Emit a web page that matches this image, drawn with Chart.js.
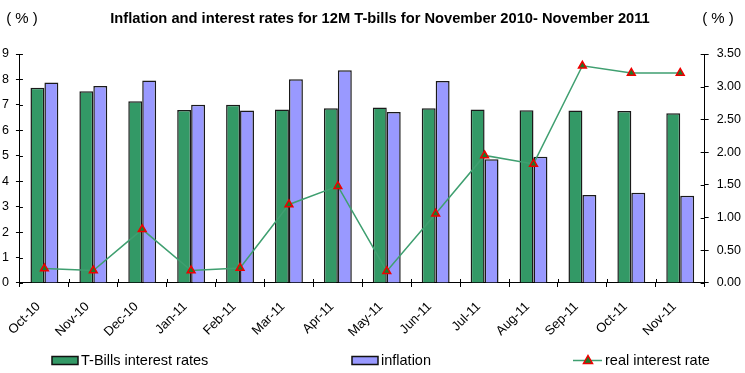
<!DOCTYPE html>
<html>
<head>
<meta charset="utf-8">
<script src="https://cdn.jsdelivr.net/npm/chart.js@4/dist/chart.umd.min.js"></script>
<style>
  html, body { margin: 0; padding: 0; background: #fff; }
  #wrap { width: 745px; height: 373px; }
</style>
</head>
<body>
<div id="wrap"><canvas id="rates" width="745" height="373"></canvas></div>
<script>
const months = ['Oct-10', 'Nov-10', 'Dec-10', 'Jan-11', 'Feb-11', 'Mar-11', 'Apr-11',
  'May-11', 'Jun-11', 'Jul-11', 'Aug-11', 'Sep-11', 'Oct-11', 'Nov-11'];
const tbillRates = [7.67, 7.54, 7.14, 6.80, 7.01, 6.82, 6.87, 6.90, 6.87, 6.82, 6.79, 6.78, 6.76, 6.67];
const inflation = [7.88, 7.74, 7.96, 7.01, 6.78, 8.01, 8.36, 6.72, 7.94, 4.86, 4.96, 3.46, 3.55, 3.43];
const realRates = [0.22, 0.19, 0.82, 0.19, 0.23, 1.20, 1.48, 0.18, 1.06, 1.95, 1.82, 3.32, 3.21, 3.21];
const leftTicks = [0, 1, 2, 3, 4, 5, 6, 7, 8, 9];
const rightTicks = [0, 0.5, 1, 1.5, 2, 2.5, 3, 3.5];

const TITLE = 'Inflation and interest rates for 12M T-bills for November 2010- November 2011';
const FONT = "'Liberation Sans', Arial, sans-serif";
const GREEN = '#339966';
const BLUE = '#9999ff';
const LINE = '#3f9f70';
const MARK_FILL = '#1d7a2a';
const MARK_EDGE = '#ee0000';

// tick marks cross the axis lines, so add the short inner half of each one
const innerTicks = {
  id: 'innerTicks',
  afterDatasetsDraw(chart) {
    const ctx = chart.ctx;
    const { x, y, y1 } = chart.scales;
    const area = chart.chartArea;
    ctx.save();
    ctx.strokeStyle = '#000';
    ctx.lineWidth = 1;
    ctx.beginPath();
    for (let i = 1; i < months.length; i++) {
      const px = Math.round((x.getPixelForTick(i - 1) + x.getPixelForTick(i)) / 2) + 0.5;
      ctx.moveTo(px, area.bottom);
      ctx.lineTo(px, area.bottom - 4);
    }
    leftTicks.forEach(v => {
      const py = Math.round(y.getPixelForValue(v)) + 0.5;
      ctx.moveTo(area.left, py);
      ctx.lineTo(area.left + 3, py);
    });
    rightTicks.forEach(v => {
      const py = Math.round(y1.getPixelForValue(v)) + 0.5;
      ctx.moveTo(area.right, py);
      ctx.lineTo(area.right - 4, py);
    });
    ctx.stroke();
    ctx.restore();
  }
};

// title, "( % )" unit captions above both axes, and the bottom legend row
const extras = {
  id: 'extras',
  afterDraw(chart) {
    const ctx = chart.ctx;
    const area = chart.chartArea;
    ctx.save();
    ctx.fillStyle = '#000';
    ctx.textBaseline = 'middle';
    ctx.textAlign = 'center';
    ctx.font = 'bold 14.7px ' + FONT;
    ctx.fillText(TITLE, 380, 19);
    ctx.font = '15px ' + FONT;
    ctx.fillText('( % )', 22, 19);
    ctx.fillText('( % )', 718, 19);

    const ly = 360.5;
    ctx.textAlign = 'left';
    ctx.font = '14.5px ' + FONT;
    const ds = chart.data.datasets;
    // bar swatches
    [[52, ds[0]], [352, ds[1]]].forEach(([bx, d]) => {
      ctx.fillStyle = d.backgroundColor;
      ctx.fillRect(bx, ly - 4, 26, 8);
      ctx.strokeStyle = '#111';
      ctx.lineWidth = 1.5;
      ctx.strokeRect(bx, ly - 4, 26, 8);
      ctx.fillStyle = '#000';
      ctx.fillText(d.label, bx + 29, ly);
    });
    // line swatch with triangle marker
    const lx = 573;
    ctx.strokeStyle = LINE;
    ctx.lineWidth = 1.5;
    ctx.beginPath();
    ctx.moveTo(lx, ly);
    ctx.lineTo(lx + 29, ly);
    ctx.stroke();
    ctx.beginPath();
    ctx.moveTo(lx + 15, ly - 5);
    ctx.lineTo(lx + 19.5, ly + 3);
    ctx.lineTo(lx + 10.5, ly + 3);
    ctx.closePath();
    ctx.fillStyle = MARK_FILL;
    ctx.fill();
    ctx.strokeStyle = MARK_EDGE;
    ctx.stroke();
    ctx.fillStyle = '#000';
    ctx.fillText(ds[2].label, lx + 32, ly);
    ctx.restore();
  }
};

new Chart(document.getElementById('rates'), {
  data: {
    labels: months,
    datasets: [
      {
        type: 'bar',
        label: 'T-Bills interest rates',
        data: tbillRates,
        backgroundColor: GREEN,
        borderColor: '#1a1a1a',
        borderWidth: 1.5,
        yAxisID: 'y',
        order: 2
      },
      {
        type: 'bar',
        label: 'inflation',
        data: inflation,
        backgroundColor: BLUE,
        borderColor: '#1a1a1a',
        borderWidth: 1.5,
        yAxisID: 'y',
        order: 2
      },
      {
        type: 'line',
        label: 'real interest rate',
        data: realRates,
        borderColor: LINE,
        borderWidth: 1.5,
        tension: 0,
        fill: false,
        pointStyle: 'triangle',
        pointRadius: 4.5,
        pointBackgroundColor: MARK_FILL,
        pointBorderColor: MARK_EDGE,
        pointBorderWidth: 1.5,
        yAxisID: 'y1',
        order: 1
      }
    ]
  },
  options: {
    responsive: false,
    animation: false,
    devicePixelRatio: 1,
    datasets: { bar: { barPercentage: 1, categoryPercentage: 0.57 } },
    layout: { autoPadding: false, padding: { left: -5, right: -4, top: 54, bottom: 21 } },
    plugins: {
      legend: { display: false },
      tooltip: { enabled: false },
      title: { display: false }
    },
    scales: {
      x: {
        afterFit: s => { s.paddingLeft = 0; s.paddingRight = 0; },
        grid: { display: true, drawOnChartArea: false, drawTicks: true, tickLength: 4, color: '#000', offset: true },
        border: { color: '#000', width: 1 },
        ticks: { color: '#000', font: { family: FONT, size: 13 }, maxRotation: 45, minRotation: 45, autoSkip: false, padding: 12, labelOffset: -6 }
      },
      y: {
        position: 'left',
        min: 0,
        max: 9,
        afterBuildTicks: s => { s.ticks = leftTicks.map(v => ({ value: v })); },
        grid: { display: true, drawOnChartArea: false, tickLength: 4, color: '#000' },
        border: { color: '#000', width: 1 },
        ticks: { color: '#000', font: { family: FONT, size: 12.5 }, padding: 7 }
      },
      y1: {
        position: 'right',
        min: 0,
        max: 3.5,
        afterBuildTicks: s => { s.ticks = rightTicks.map(v => ({ value: v })); },
        grid: { display: true, drawOnChartArea: false, tickLength: 4, color: '#000' },
        border: { color: '#000', width: 1 },
        ticks: { color: '#000', font: { family: FONT, size: 12.5 }, padding: 8, callback: v => v.toFixed(2) }
      }
    }
  },
  plugins: [innerTicks, extras]
});
</script>
</body>
</html>
